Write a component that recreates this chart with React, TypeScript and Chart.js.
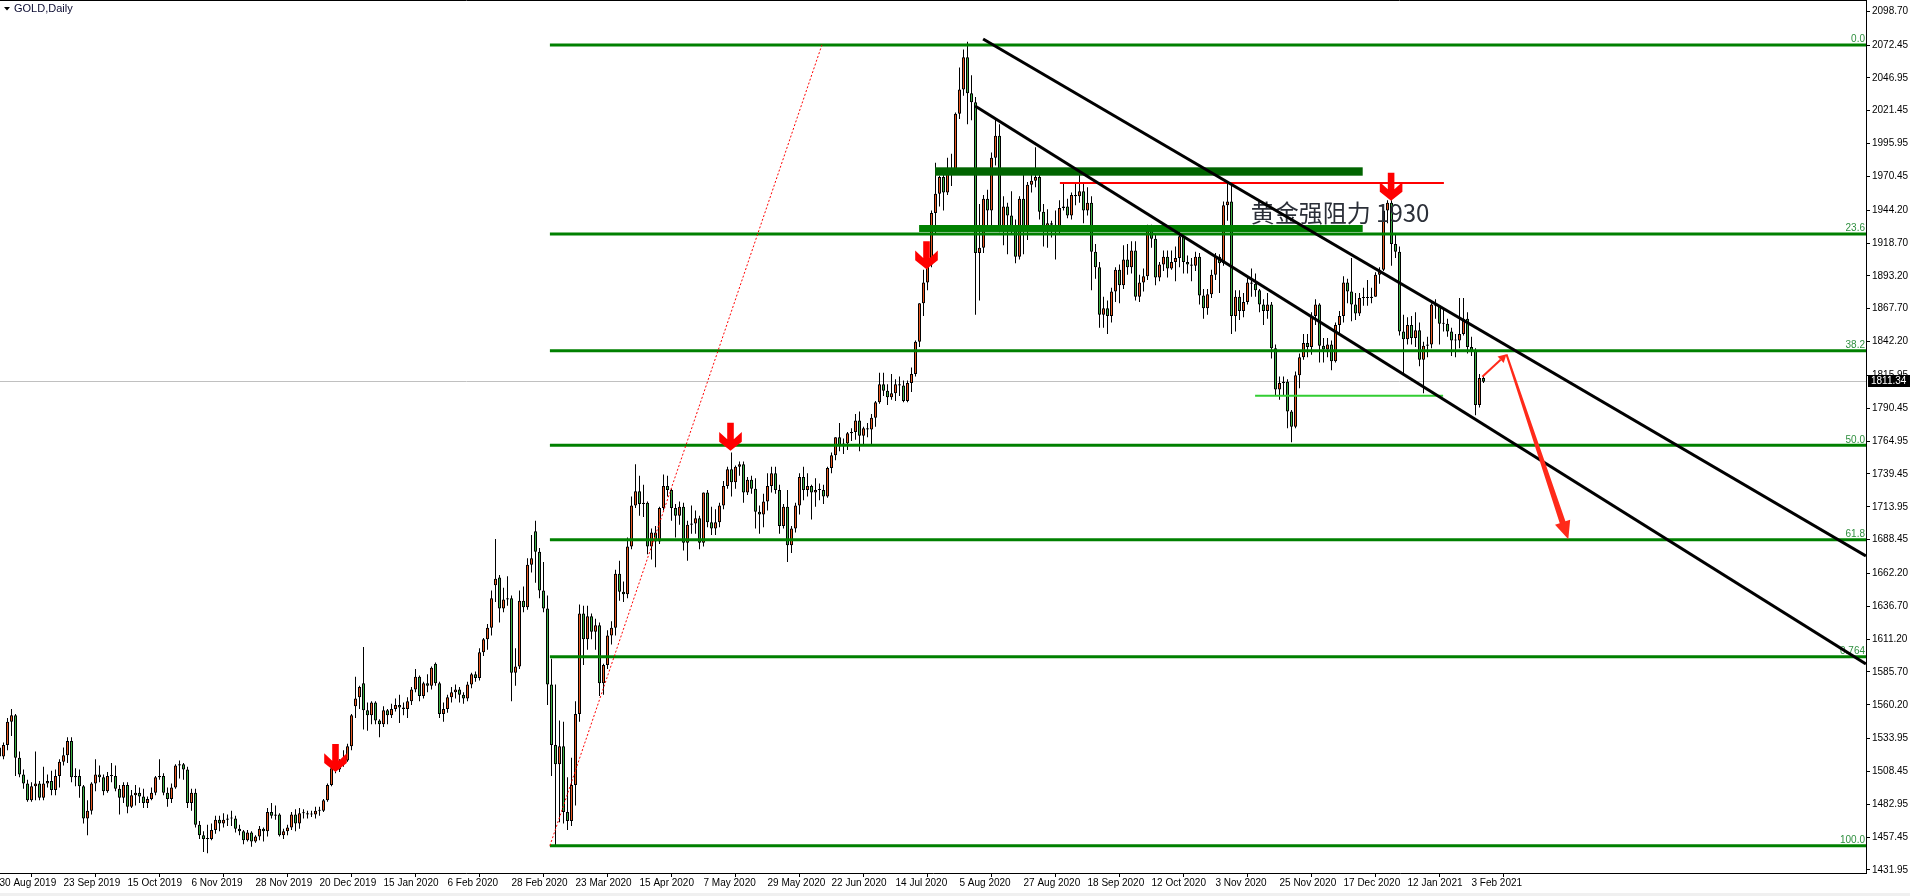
import React, { useEffect, useRef } from 'react';
import { Chart, registerables } from 'chart.js';

Chart.register(...registerables);

// ---------------- DATA ----------------
// Daily GOLD candles, index 0 = 30 Aug 2019, last = 8 Feb 2021
const OPEN = [
  1527,1520,1529,1547,1552,1519,1506,1499,1486,1497,
  1499,1488,1499,1501,1494,1505,1516,1521,1532,1504,
  1505,1497,1472,1478,1499,1506,1504,1493,1505,1505,
  1495,1488,1498,1481,1490,1492,1489,1484,1487,1492,
  1504,1505,1492,1487,1496,1513,1514,1510,1484,1492,
  1467,1459,1456,1456,1463,1471,1468,1471,1472,1472,
  1464,1462,1455,1461,1454,1458,1464,1462,1477,1474,
  1475,1459,1462,1465,1475,1468,1476,1476,1475,1475,
  1478,1478,1486,1498,1511,1510,1514,1517,1528,1559,
  1566,1577,1556,1552,1562,1548,1545,1556,1552,1557,
  1560,1558,1557,1563,1572,1582,1567,1577,1575,1592,
  1577,1553,1557,1566,1570,1572,1568,1565,1576,1584,
  1581,1601,1611,1620,1653,1659,1635,1642,1643,1585,
  1590,1641,1636,1669,1695,1679,1649,1635,1576,1529,
  1514,1528,1477,1470,1498,1553,1631,1611,1629,1617,
  1622,1577,1591,1614,1620,1662,1648,1646,1683,1715,
  1726,1716,1717,1683,1694,1687,1713,1730,1727,1713,
  1707,1714,1686,1700,1701,1705,1686,1725,1702,1697,
  1702,1715,1730,1743,1733,1745,1747,1725,1735,1728,
  1710,1708,1718,1730,1740,1727,1699,1714,1684,1697,
  1715,1737,1727,1730,1725,1727,1727,1722,1744,1754,
  1768,1761,1763,1771,1772,1781,1769,1775,1774,1783,
  1795,1809,1804,1799,1802,1809,1808,1796,1810,1817,
  1842,1872,1888,1902,1942,1957,1970,1958,1974,1976,
  2019,2038,2063,2035,2028,1911,1915,1953,1944,1985,
  2002,1929,1947,1940,1928,1908,1953,1930,1964,1967,
  1970,1943,1930,1934,1933,1931,1946,1947,1940,1956,
  1955,1959,1944,1950,1912,1900,1863,1868,1862,1881,
  1898,1886,1906,1900,1913,1877,1888,1893,1930,1922,
  1892,1902,1908,1899,1904,1907,1924,1904,1902,1901,
  1908,1878,1868,1879,1894,1908,1903,1948,1951,1862,
  1877,1866,1873,1888,1887,1882,1871,1866,1871,1837,
  1805,1810,1811,1788,1776,1816,1830,1841,1838,1862,
  1871,1839,1836,1840,1827,1855,1862,1888,1881,1871,
  1864,1876,1876,1876,1877,1894,1898,1944,1950,1918,
  1912,1850,1844,1855,1845,1851,1828,1839,1840,1871,
  1870,1856,1856,1850,1843,1843,1848,1860,1838,1835,
  1793,1814,
];
const HIGH = [
  1530,1531,1550,1557,1553,1524,1510,1502,1500,1524,
  1501,1512,1506,1509,1510,1518,1527,1535,1535,1511,
  1510,1498,1486,1500,1518,1513,1506,1508,1515,1513,
  1498,1500,1500,1494,1498,1496,1495,1489,1496,1505,
  1518,1507,1496,1499,1514,1517,1515,1512,1495,1495,
  1470,1462,1467,1468,1474,1474,1476,1475,1478,1474,
  1467,1463,1463,1462,1459,1466,1465,1480,1484,1482,
  1476,1464,1467,1477,1479,1480,1479,1478,1478,1481,
  1481,1487,1499,1512,1514,1518,1525,1530,1553,1582,
  1575,1605,1562,1563,1563,1549,1559,1557,1561,1565,
  1568,1562,1566,1574,1588,1583,1578,1584,1590,1593,
  1578,1562,1568,1574,1576,1574,1570,1578,1585,1586,
  1604,1612,1623,1649,1689,1661,1651,1660,1645,1604,
  1649,1652,1674,1692,1703,1682,1671,1645,1596,1576,
  1548,1547,1504,1519,1563,1638,1637,1637,1631,1627,
  1624,1592,1618,1625,1665,1672,1656,1690,1722,1747,
  1738,1731,1718,1697,1699,1714,1739,1738,1728,1716,
  1718,1717,1703,1715,1711,1707,1725,1727,1714,1712,
  1717,1734,1745,1756,1746,1749,1749,1737,1738,1736,
  1715,1724,1740,1745,1745,1731,1716,1727,1699,1717,
  1740,1745,1740,1731,1736,1732,1731,1745,1756,1768,
  1779,1767,1772,1775,1786,1788,1776,1779,1786,1796,
  1818,1818,1809,1817,1813,1815,1812,1812,1822,1843,
  1872,1898,1904,1944,1981,1971,1974,1985,1988,2020,
  2055,2069,2075,2049,2032,1949,1956,1960,1989,2015,
  2011,1955,1950,1959,1937,1955,1975,1966,1975,1993,
  1974,1949,1945,1936,1944,1952,1965,1953,1958,1966,
  1974,1966,1962,1955,1918,1904,1877,1874,1884,1900,
  1902,1917,1918,1920,1920,1894,1899,1933,1933,1925,
  1904,1913,1913,1913,1916,1931,1925,1909,1907,1912,
  1911,1883,1883,1898,1911,1910,1951,1965,1966,1882,
  1882,1880,1892,1899,1895,1883,1875,1880,1873,1840,
  1815,1815,1813,1789,1819,1833,1848,1848,1865,1875,
  1872,1845,1845,1843,1857,1866,1893,1891,1907,1880,
  1880,1884,1890,1884,1896,1900,1945,1952,1952,1925,
  1916,1863,1861,1862,1865,1857,1842,1846,1872,1875,
  1870,1868,1860,1853,1848,1876,1876,1865,1846,1837,
  1817,1816,
];
const LOW = [
  1513,1518,1525,1536,1505,1504,1495,1485,1485,1486,
  1486,1486,1496,1490,1490,1496,1513,1515,1500,1497,
  1488,1468,1459,1475,1493,1500,1490,1492,1500,1493,
  1475,1484,1476,1480,1482,1484,1480,1480,1486,1490,
  1502,1490,1481,1484,1495,1503,1502,1480,1478,1465,
  1456,1446,1445,1455,1460,1462,1465,1466,1466,1461,
  1459,1452,1454,1450,1453,1455,1454,1458,1472,1471,
  1458,1456,1459,1463,1462,1464,1472,1472,1473,1472,
  1474,1477,1485,1497,1507,1508,1512,1516,1525,1550,
  1557,1541,1540,1545,1545,1535,1543,1545,1550,1555,
  1546,1552,1550,1560,1570,1563,1565,1570,1572,1575,
  1550,1547,1554,1562,1565,1562,1561,1563,1573,1578,
  1579,1598,1603,1614,1640,1624,1632,1637,1563,1575,
  1588,1632,1634,1663,1655,1643,1632,1560,1505,1451,
  1469,1468,1463,1466,1482,1547,1591,1603,1611,1603,
  1567,1568,1588,1607,1614,1641,1640,1643,1681,1713,
  1707,1706,1677,1673,1667,1685,1711,1722,1703,1690,
  1700,1680,1672,1693,1693,1681,1683,1698,1692,1692,
  1698,1712,1728,1722,1728,1738,1717,1723,1724,1697,
  1693,1698,1711,1725,1724,1693,1697,1671,1678,1694,
  1708,1719,1722,1704,1714,1719,1716,1721,1740,1750,
  1757,1755,1758,1765,1766,1757,1762,1768,1762,1776,
  1794,1800,1793,1797,1796,1800,1795,1795,1803,1815,
  1838,1862,1882,1900,1925,1947,1944,1956,1963,1974,
  2015,2033,2011,2014,1863,1874,1911,1928,1932,1979,
  1927,1917,1910,1925,1903,1906,1910,1921,1958,1962,
  1937,1916,1915,1923,1906,1926,1944,1938,1937,1948,
  1950,1934,1940,1882,1891,1853,1853,1848,1857,1873,
  1872,1883,1894,1895,1874,1873,1881,1890,1915,1886,
  1889,1897,1892,1898,1889,1900,1895,1895,1889,1897,
  1871,1860,1863,1876,1890,1880,1901,1936,1848,1850,
  1859,1861,1871,1877,1877,1865,1855,1860,1829,1800,
  1797,1800,1775,1764,1775,1806,1828,1830,1832,1855,
  1826,1826,1830,1820,1826,1848,1857,1872,1858,1859,
  1862,1870,1870,1872,1877,1887,1897,1934,1901,1907,
  1847,1816,1840,1840,1838,1823,1802,1830,1837,1860,
  1840,1850,1846,1831,1830,1837,1847,1833,1831,1785,
  1791,1810,
];
const CLOSE = [
  1520,1529,1547,1552,1519,1506,1499,1486,1497,1499,
  1488,1499,1501,1494,1505,1516,1521,1532,1504,1505,
  1497,1472,1478,1499,1506,1504,1493,1505,1505,1495,
  1488,1498,1481,1490,1492,1489,1484,1487,1492,1504,
  1505,1492,1487,1496,1513,1514,1510,1484,1492,1467,
  1459,1456,1456,1463,1471,1468,1471,1472,1472,1464,
  1462,1455,1461,1454,1458,1464,1462,1477,1474,1475,
  1459,1462,1465,1475,1468,1476,1476,1475,1475,1478,
  1478,1486,1498,1511,1510,1514,1517,1528,1552,1565,
  1574,1556,1552,1562,1548,1545,1556,1552,1557,1560,
  1558,1557,1563,1572,1582,1567,1577,1575,1589,1577,
  1553,1557,1566,1570,1572,1568,1565,1576,1584,1581,
  1601,1611,1620,1643,1658,1635,1642,1643,1585,1590,
  1641,1636,1669,1674,1679,1649,1635,1576,1529,1514,
  1528,1477,1470,1498,1553,1631,1611,1629,1617,1622,
  1577,1591,1614,1620,1662,1648,1646,1683,1715,1726,
  1716,1717,1683,1694,1687,1713,1730,1727,1713,1707,
  1714,1686,1700,1701,1705,1686,1725,1702,1697,1702,
  1715,1730,1743,1733,1745,1747,1725,1735,1728,1710,
  1708,1718,1730,1740,1727,1699,1714,1684,1697,1715,
  1737,1727,1730,1725,1727,1727,1722,1744,1754,1768,
  1761,1763,1771,1772,1781,1769,1775,1774,1783,1795,
  1809,1804,1799,1802,1809,1808,1796,1810,1817,1842,
  1872,1888,1902,1942,1957,1970,1958,1974,1976,2019,
  2038,2063,2035,2028,1911,1915,1953,1944,1985,2002,
  1929,1947,1940,1928,1908,1953,1930,1964,1967,1970,
  1943,1930,1934,1933,1931,1946,1947,1940,1956,1955,
  1959,1944,1950,1912,1900,1863,1868,1862,1881,1898,
  1886,1906,1900,1913,1877,1888,1893,1930,1922,1892,
  1902,1908,1899,1904,1907,1924,1904,1902,1901,1908,
  1878,1868,1879,1894,1908,1903,1948,1951,1862,1877,
  1866,1873,1888,1887,1882,1871,1866,1871,1837,1805,
  1810,1811,1788,1776,1816,1830,1841,1838,1862,1871,
  1839,1836,1840,1827,1855,1862,1888,1881,1871,1864,
  1876,1876,1876,1877,1894,1898,1944,1950,1918,1912,
  1850,1844,1855,1845,1851,1828,1839,1840,1871,1870,
  1856,1856,1850,1843,1843,1848,1860,1838,1835,1793,
  1814,1811,
];

const X_TICK_LABELS = [
  '30 Aug 2019', '23 Sep 2019', '15 Oct 2019', '6 Nov 2019', '28 Nov 2019', '20 Dec 2019',
  '15 Jan 2020', '6 Feb 2020', '28 Feb 2020', '23 Mar 2020', '15 Apr 2020', '7 May 2020',
  '29 May 2020', '22 Jun 2020', '14 Jul 2020', '5 Aug 2020', '27 Aug 2020', '18 Sep 2020',
  '12 Oct 2020', '3 Nov 2020', '25 Nov 2020', '17 Dec 2020', '12 Jan 2021', '3 Feb 2021',
];
const BARS_PER_LABEL = 16;

const Y_TICKS = [
  2098.70, 2072.45, 2046.95, 2021.45, 1995.95, 1970.45, 1944.20, 1918.70, 1893.20,
  1867.70, 1842.20, 1815.95, 1790.45, 1764.95, 1739.45, 1713.95, 1688.45, 1662.20,
  1636.70, 1611.20, 1585.70, 1560.20, 1533.95, 1508.45, 1482.95, 1457.45, 1431.95,
];

const LAST_PRICE = 1811.34;
const SYMBOL_TITLE = 'GOLD,Daily';

// Fibonacci retracement (bar index, price)
const FIB_HIGH = 2072.5;
const FIB_LOW = 1450.8;
const FIB_LEVELS = [0, 23.6, 38.2, 50, 61.8, 76.4, 100];
const FIB_LABELS = ['0.0', '23.6', '38.2', '50.0', '61.8', '0.764', '100.0'];
const FIB_START_BAR = 137.6;
const FIB_TREND = [[137.6, 1450.8], [205.6, 2072.5]];

// trend lines [bar, price] -> [bar, price]
const TREND_LINES = [
  [[245.9, 2077.1], [466.6, 1675.7]],
  [[243.9, 2025.1], [466.6, 1591.9]],
];
// resistance zones: [fromBar, toBar, priceTop, priceBottom]
const ZONES = [
  [233.9, 340.8, 1977.5, 1971.0],
  [229.9, 340.8, 1932.7, 1927.3],
];
const RED_LEVEL = [265.1, 361.1, 1965.3];
const GREEN_LEVEL = [313.9, 360.9, 1800.2];
// down arrows: [bar, tip price]
const DOWN_ARROWS = [
  [84.0, 1508.0],
  [182.75, 1757.5],
  [231.75, 1898.3],
  [347.9, 1951.6],
];
const PROJECTION = [[370.7, 1814.9], [376.75, 1832.3], [392.2, 1688.7]];
const NOTE_TEXT = '黄金强阻力 1930';
const NOTE_POS = [312.8, 1935.4];

// ---------------- STYLE ----------------
const BULL = '#E8581F';
const BEAR = '#3CB043';
const AXIS_FONT = '"Liberation Sans", Arial, sans-serif';

function drawDownArrow(ctx: CanvasRenderingContext2D, cx: number, tip: number) {
  ctx.beginPath();
  ctx.moveTo(cx - 3.3, tip - 28);
  ctx.lineTo(cx + 3.3, tip - 28);
  ctx.lineTo(cx + 3.3, tip - 11.3);
  ctx.lineTo(cx + 11.3, tip - 18.7);
  ctx.lineTo(cx + 11.3, tip - 9);
  ctx.lineTo(cx, tip);
  ctx.lineTo(cx - 11.3, tip - 9);
  ctx.lineTo(cx - 11.3, tip - 18.7);
  ctx.lineTo(cx - 3.3, tip - 11.3);
  ctx.closePath();
  ctx.fillStyle = '#ff0000';
  ctx.fill();
}

const mt4Plugin = {
  id: 'mt4Objects',
  beforeDatasetsDraw(chart: any) {
    const { ctx, chartArea, scales } = chart;
    const y = scales.y;
    ctx.save();
    const py = Math.round(y.getPixelForValue(LAST_PRICE)) + 0.5;
    ctx.strokeStyle = '#c0c0c0';
    ctx.lineWidth = 1;
    ctx.beginPath();
    ctx.moveTo(chartArea.left, py);
    ctx.lineTo(chartArea.right, py);
    ctx.stroke();
    ctx.restore();
  },
  afterDatasetsDraw(chart: any) {
    const { ctx, chartArea, scales } = chart;
    const x = scales.x;
    const y = scales.y;
    const X = (v: number) => x.getPixelForValue(v);
    const Y = (v: number) => y.getPixelForValue(v);
    ctx.save();
    ctx.beginPath();
    ctx.rect(chartArea.left, chartArea.top, chartArea.right - chartArea.left, chartArea.bottom - chartArea.top);
    ctx.clip();

    // fib levels
    ctx.lineWidth = 3;
    ctx.strokeStyle = '#008000';
    FIB_LEVELS.forEach((lv, k) => {
      const price = FIB_HIGH - (FIB_HIGH - FIB_LOW) * lv / 100;
      const py = Y(price);
      ctx.beginPath();
      ctx.moveTo(X(FIB_START_BAR), py);
      ctx.lineTo(chartArea.right, py);
      ctx.stroke();
      ctx.font = '10px "Liberation Sans", Arial, sans-serif';
      ctx.fillStyle = '#2f8f3f';
      ctx.textAlign = 'right';
      ctx.textBaseline = 'alphabetic';
      ctx.fillText(FIB_LABELS[k], chartArea.right - 1, py - 2.5);
    });

    // zones
    ZONES.forEach(([a, b, top, bot], k) => {
      ctx.fillStyle = k === 0 ? '#006400' : '#008000';
      const y1 = Y(top), y2 = Y(bot);
      ctx.fillRect(X(a), y1, X(b) - X(a), y2 - y1);
    });

    // red dotted fib trend line
    ctx.save();
    ctx.strokeStyle = '#ff0000';
    ctx.lineWidth = 1;
    ctx.setLineDash([2, 2]);
    ctx.beginPath();
    ctx.moveTo(X(FIB_TREND[0][0]), Y(FIB_TREND[0][1]));
    ctx.lineTo(X(FIB_TREND[1][0]), Y(FIB_TREND[1][1]));
    ctx.stroke();
    ctx.restore();

    // red level line
    ctx.strokeStyle = '#ff0000';
    ctx.lineWidth = 2;
    ctx.beginPath();
    ctx.moveTo(X(RED_LEVEL[0]), Y(RED_LEVEL[2]));
    ctx.lineTo(X(RED_LEVEL[1]), Y(RED_LEVEL[2]));
    ctx.stroke();

    // light green level
    ctx.strokeStyle = '#32cd32';
    ctx.lineWidth = 2;
    ctx.beginPath();
    ctx.moveTo(X(GREEN_LEVEL[0]), Y(GREEN_LEVEL[2]));
    ctx.lineTo(X(GREEN_LEVEL[1]), Y(GREEN_LEVEL[2]));
    ctx.stroke();

    // note text
    ctx.font = '24px "Noto Sans CJK SC", sans-serif';
    ctx.fillStyle = '#2b2f38';
    ctx.textAlign = 'left';
    ctx.textBaseline = 'alphabetic';
    ctx.fillText(NOTE_TEXT, X(NOTE_POS[0]), Y(NOTE_POS[1]));

    // black trend lines
    ctx.strokeStyle = '#000000';
    ctx.lineWidth = 3;
    TREND_LINES.forEach(([p, q]) => {
      ctx.beginPath();
      ctx.moveTo(X(p[0]), Y(p[1]));
      ctx.lineTo(X(q[0]), Y(q[1]));
      ctx.stroke();
    });

    // down arrows
    DOWN_ARROWS.forEach(([b, p]) => drawDownArrow(ctx, X(b), Y(p)));

    // projection arrows
    const [p1, p2, p3] = PROJECTION.map(([b, p]) => [X(b), Y(p)]);
    ctx.fillStyle = '#ff2a1a';
    ctx.strokeStyle = '#ff2a1a';
    {
      const dx = p2[0] - p1[0], dy = p2[1] - p1[1];
      const L = Math.hypot(dx, dy);
      const ux = dx / L, uy = dy / L, nx = -uy, ny = ux;
      const hb = [p2[0] - ux * 8, p2[1] - uy * 8];
      ctx.lineWidth = 2;
      ctx.beginPath();
      ctx.moveTo(p1[0], p1[1]);
      ctx.lineTo(hb[0], hb[1]);
      ctx.stroke();
      ctx.beginPath();
      ctx.moveTo(p2[0], p2[1]);
      ctx.lineTo(hb[0] + nx * 4.5, hb[1] + ny * 4.5);
      ctx.lineTo(hb[0] - nx * 4.5, hb[1] - ny * 4.5);
      ctx.closePath();
      ctx.fill();
    }
    {
      const dx = p3[0] - p2[0], dy = p3[1] - p2[1];
      const L = Math.hypot(dx, dy);
      const ux = dx / L, uy = dy / L, nx = -uy, ny = ux;
      const hb = [p3[0] - ux * 18, p3[1] - uy * 18];
      ctx.beginPath();
      ctx.moveTo(p2[0] + nx * 1, p2[1] + ny * 1);
      ctx.lineTo(hb[0] + nx * 3, hb[1] + ny * 3);
      ctx.lineTo(hb[0] + nx * 8, hb[1] + ny * 8);
      ctx.lineTo(p3[0], p3[1]);
      ctx.lineTo(hb[0] - nx * 8, hb[1] - ny * 8);
      ctx.lineTo(hb[0] - nx * 3, hb[1] - ny * 3);
      ctx.lineTo(p2[0] - nx * 1, p2[1] - ny * 1);
      ctx.closePath();
      ctx.fill();
    }
    ctx.restore();
  },
  afterDraw(chart: any) {
    const { ctx, chartArea, scales, width, height } = chart;
    const y = scales.y;
    ctx.save();
    // top border
    ctx.strokeStyle = '#000';
    ctx.lineWidth = 1;
    ctx.beginPath();
    ctx.moveTo(0, 0.5);
    ctx.lineTo(chartArea.right, 0.5);
    ctx.stroke();
    // price box
    const py = Math.round(y.getPixelForValue(LAST_PRICE));
    ctx.fillStyle = '#000';
    ctx.fillRect(chartArea.right + 2, py - 6, width - chartArea.right - 2, 12);
    ctx.fillStyle = '#fff';
    ctx.font = '10px ' + AXIS_FONT;
    ctx.textAlign = 'left';
    ctx.textBaseline = 'middle';
    ctx.fillText(LAST_PRICE.toFixed(2), chartArea.right + 5, py + 0.5);
    // title
    ctx.fillStyle = '#000';
    ctx.beginPath();
    ctx.moveTo(4, 7);
    ctx.lineTo(10, 7);
    ctx.lineTo(7, 10.5);
    ctx.closePath();
    ctx.fill();
    ctx.font = '11px "Liberation Sans", Arial, sans-serif';
    ctx.fillStyle = '#0a0a30';
    ctx.textBaseline = 'middle';
    ctx.fillText(SYMBOL_TITLE, 14, 9);
    // bottom strip
    ctx.fillStyle = '#f0f0f0';
    ctx.fillRect(0, height - 3, width, 3);
    ctx.restore();
  },
};

export default function App() {
  const ref = useRef<HTMLCanvasElement>(null);
  useEffect(() => {
    document.body.style.margin = '0';
    const idx = CLOSE.map((_, i) => i);
    const wicks = idx.map((i) => ({
      x: i,
      y: [Math.min(LOW[i], OPEN[i], CLOSE[i]), Math.max(HIGH[i], OPEN[i], CLOSE[i])],
    }));
    const bodies = idx.map((i) => ({ x: i, y: [OPEN[i], CLOSE[i]] }));
    const colors = idx.map((i) => (CLOSE[i] > OPEN[i] ? BULL : BEAR));

    const chart = new Chart(ref.current as HTMLCanvasElement, {
      type: 'bar',
      data: {
        datasets: [
          {
            label: 'wick',
            data: wicks as any,
            backgroundColor: '#000000',
            borderWidth: 0,
            barThickness: 1,
            grouped: false,
            inflateAmount: 0,
            order: 2,
          } as any,
          {
            label: 'body',
            data: bodies as any,
            backgroundColor: colors,
            borderColor: '#000000',
            borderWidth: 1,
            borderSkipped: false,
            barThickness: 3,
            minBarLength: 1,
            grouped: false,
            inflateAmount: 0,
            order: 1,
          } as any,
        ],
      },
      options: {
        animation: false,
        responsive: false,
        events: [],
        layout: { padding: 0 },
        plugins: { legend: { display: false }, tooltip: { enabled: false } },
        scales: {
          x: {
            type: 'linear',
            min: 0.125,
            max: 466.625,
            offset: false,
            grid: { display: true, drawOnChartArea: false, drawTicks: true, tickLength: 4, color: '#000' },
            border: { display: true, color: '#000', width: 1 },
            ticks: {
              autoSkip: false,
              maxRotation: 0,
              minRotation: 0,
              align: 'start',
              padding: 0,
              color: '#000',
              font: { family: AXIS_FONT, size: 10 },
              callback: (v: any) => X_TICK_LABELS[Math.round(Number(v) / BARS_PER_LABEL)] ?? '',
            },
            afterBuildTicks: (scale: any) => {
              scale.ticks = X_TICK_LABELS.map((_, k) => ({ value: k * BARS_PER_LABEL }));
            },
            afterFit: (scale: any) => {
              scale.height = 23;
              scale.paddingLeft = 0;
              scale.paddingRight = 0;
            },
          },
          y: {
            type: 'linear',
            position: 'right',
            min: 1429.6,
            max: 2107.4,
            grid: { display: true, drawOnChartArea: false, drawTicks: true, tickLength: 4, color: '#000' },
            border: { display: true, color: '#000', width: 1 },
            ticks: {
              padding: 2,
              color: '#000',
              font: { family: AXIS_FONT, size: 10 },
              callback: (v: any) => Number(v).toFixed(2),
            },
            afterBuildTicks: (scale: any) => {
              scale.ticks = Y_TICKS.map((v) => ({ value: v }));
            },
            afterFit: (scale: any) => {
              scale.width = 44;
              scale.paddingTop = 0;
              scale.paddingBottom = 0;
            },
          },
        },
      } as any,
      plugins: [mt4Plugin],
    });
    return () => chart.destroy();
  }, []);

  return (
    <div style={{ position: 'fixed', left: 0, top: 0, width: 1910, height: 896, background: '#fff' }}>
      <canvas ref={ref} width={1910} height={896} style={{ display: 'block', width: 1910, height: 896 }} />
    </div>
  );
}
